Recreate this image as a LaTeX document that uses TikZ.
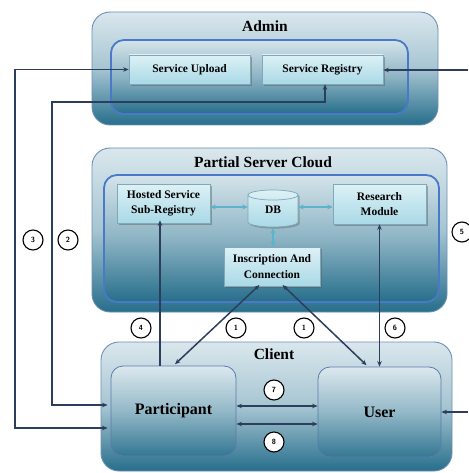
\documentclass[tikz,border=0pt]{standalone}
\usepackage{fontspec}
\setmainfont{Liberation Serif}
\usetikzlibrary{arrows.meta,shadows,calc}

\definecolor{paleTop}{HTML}{DAE7ED}
\definecolor{paleMid}{HTML}{A6C5D2}
\definecolor{tealBot}{HTML}{276E8B}
\definecolor{frameEdge}{HTML}{6C8FB3}
\definecolor{blueEdge}{HTML}{4A79C9}
\definecolor{boxTop}{HTML}{DDF1F6}
\definecolor{boxBot}{HTML}{A9D9E6}
\definecolor{boxEdge}{HTML}{7FA8B8}
\definecolor{navy}{HTML}{2C3E5C}
\definecolor{cyanLink}{HTML}{5BB4C9}
\definecolor{roleEdge}{HTML}{5A7BAE}

\tikzset{
  outerframe/.style={draw=frameEdge, line width=0.9pt, rounded corners=18pt,
    top color=paleTop, bottom color=tealBot, middle color=paleMid,
    shading angle=0},
  innerframe/.style={draw=blueEdge, line width=1.8pt, rounded corners=13pt,
    top color=paleTop!90!paleMid, bottom color=tealBot, middle color=paleMid!80!tealBot},
  modulebox/.style={draw=boxEdge, line width=0.7pt, top color=boxTop, bottom color=boxBot,
    font=\bfseries\fontsize{11.5}{15.5}\selectfont, align=center, inner sep=0pt,
    drop shadow={shadow xshift=1.6pt, shadow yshift=-1.6pt, opacity=0.45, fill=gray!70!black}},
  rolebox/.style={draw=roleEdge, line width=0.8pt, rounded corners=12pt,
    top color=paleTop!95!white, bottom color=tealBot!90!paleMid, middle color=paleMid!85!tealBot,
    font=\bfseries\fontsize{16}{18}\selectfont, inner sep=0pt},
  heading/.style={font=\bfseries\fontsize{15.5}{18}\selectfont, inner sep=0pt},
  stepnum/.style={circle, draw=black, line width=1.1pt, fill=white, minimum size=20pt,
    inner sep=0pt, font=\bfseries\sffamily\fontsize{7.5}{8}\selectfont},
  link/.style={draw=navy, line width=1.5pt, {Stealth[length=5.5pt,width=4.5pt]}-{Stealth[length=5.5pt,width=4.5pt]}},
  uplink/.style={draw=navy, line width=1.5pt, -{Stealth[length=5.5pt,width=4.5pt]}},
  dblink/.style={draw=cyanLink, line width=1.1pt, {Stealth[length=5.5pt,width=5pt]}-{Stealth[length=5.5pt,width=5pt]}}
}

\begin{document}
\begin{tikzpicture}[x=1pt, y=-1pt]
\useasboundingbox (0,0) rectangle (468,473);

% ---------- Admin ----------
\node[outerframe, minimum width=346pt, minimum height=113pt] (admin) at (265,68.5) {};
\node[innerframe, minimum width=297pt, minimum height=74pt] (adminin) at (259.5,77) {};
\node[heading] (admintitle) at (265,26) {Admin};
\node[modulebox, minimum width=121pt, minimum height=29pt] (upload) at (189.5,69.5) {Service Upload};
\node[modulebox, minimum width=121pt, minimum height=29pt] (registry) at (322.5,69.5) {Service Registry};

% ---------- Partial Server Cloud ----------
\node[outerframe, minimum width=355pt, minimum height=164pt] (cloud) at (269.5,230) {};
\node[innerframe, minimum width=335pt, minimum height=127pt] (cloudin) at (271.5,238.5) {};
\node[heading] (cloudtitle) at (263,162) {Partial Server Cloud};
\node[modulebox, minimum width=93pt, minimum height=39pt] (hosted) at (163.5,203.5) {Hosted Service\\Sub-Registry};
\node[modulebox, minimum width=93pt, minimum height=40pt] (research) at (379.5,204) {Research\\Module};
\node[modulebox, minimum width=96pt, minimum height=39pt] (insc) at (272,266.5) {Inscription And\\Connection};

% database cylinder
\begin{scope}[shift={(273,208.5)}, x=1pt, y=1pt]
  \fill[gray!70!black, opacity=0.4, shift={(1.6,-1.6)}]
    (-25,13.5) -- (-25,-13.5) arc[start angle=180, end angle=360, x radius=25pt, y radius=5pt]
    -- (25,13.5) arc[start angle=0, end angle=180, x radius=25pt, y radius=5pt] -- cycle;
  \shade[top color=boxTop, bottom color=boxBot, draw=boxEdge, line width=0.7pt]
    (-25,13.5) -- (-25,-13.5) arc[start angle=180, end angle=360, x radius=25pt, y radius=5pt]
    -- (25,13.5) arc[start angle=0, end angle=180, x radius=25pt, y radius=5pt] -- cycle;
  \draw[boxEdge, line width=0.7pt]
    (-25,13.5) arc[start angle=180, end angle=360, x radius=25pt, y radius=5pt];
\end{scope}
\node[minimum width=50pt, minimum height=37pt, inner sep=0pt,
  font=\bfseries\fontsize{11.5}{14}\selectfont] (db) at (273,209.5) {DB};

% ---------- Client ----------
\node[outerframe, minimum width=351pt, minimum height=129pt] (client) at (276.5,406.5) {};
\node[heading] (clienttitle) at (274,354) {Client};
\node[rolebox, minimum width=125pt, minimum height=90pt] (part) at (173.5,411) {Participant};
\node[rolebox, minimum width=123pt, minimum height=90pt] (user) at (379.5,412) {User};

% ---------- corner points of the routed links ----------
\coordinate (c3) at (15,428);
\coordinate (c2a) at (52,102);
\coordinate (c2b) at (52,405);
\coordinate (eastA) at (468,70);
\coordinate (eastB) at (468,412);
\coordinate (m7) at (274,406);
\coordinate (m8) at (274,424);
\coordinate (l4) at (160,0);
\coordinate (dbrow) at (0,207);

% ---------- links ----------
\draw[link, shorten >=3pt] (upload.west) -| (c3) -- (part.west |- c3);
\draw[link, shorten >=3pt] ([xshift=2.5pt]registry.south) |- (c2a) |- (part.west |- c2b);
\draw[uplink] (eastA) -- (registry.east |- eastA);
\draw[uplink] (eastB) -- (user.east |- eastB);
\draw[uplink, shorten >=-3pt] (part.north -| l4) -- (hosted.south -| l4);
\draw[link] (research.south) -- (user.north -| research.south);
\draw[link, shorten <=-2pt, shorten >=2pt] ([xshift=-14pt]insc.south) -- (part.north);
\draw[link, shorten <=-2pt, shorten >=2pt] ([xshift=12pt]insc.south) -- ([xshift=-11.5pt]user.north);
\draw[link] (part.east |- m7) -- (user.west |- m7);
\draw[link] (part.east |- m8) -- (user.west |- m8);

% database links
\draw[dblink] (hosted.east |- dbrow) -- (db.west |- dbrow);
\draw[dblink] (db.east |- dbrow) -- (research.west |- dbrow);
\draw[dblink] (db.south) -- (insc.north -| db.south);

% ---------- step numbers ----------
\node[stepnum] (n3) at (33,240) {3};
\node[stepnum] (n2) at (68,240) {2};
\node[stepnum] (n5) at (462,232) {5};
\node[stepnum] (n4) at (141,328) {4};
\node[stepnum] (n1a) at (236,328) {1};
\node[stepnum] (n1b) at (304,328) {1};
\node[stepnum] (n6) at (395,328) {6};
\node[stepnum] (n7) at (274,390) {7};
\node[stepnum] (n8) at (274,442) {8};
\end{tikzpicture}
\end{document}
